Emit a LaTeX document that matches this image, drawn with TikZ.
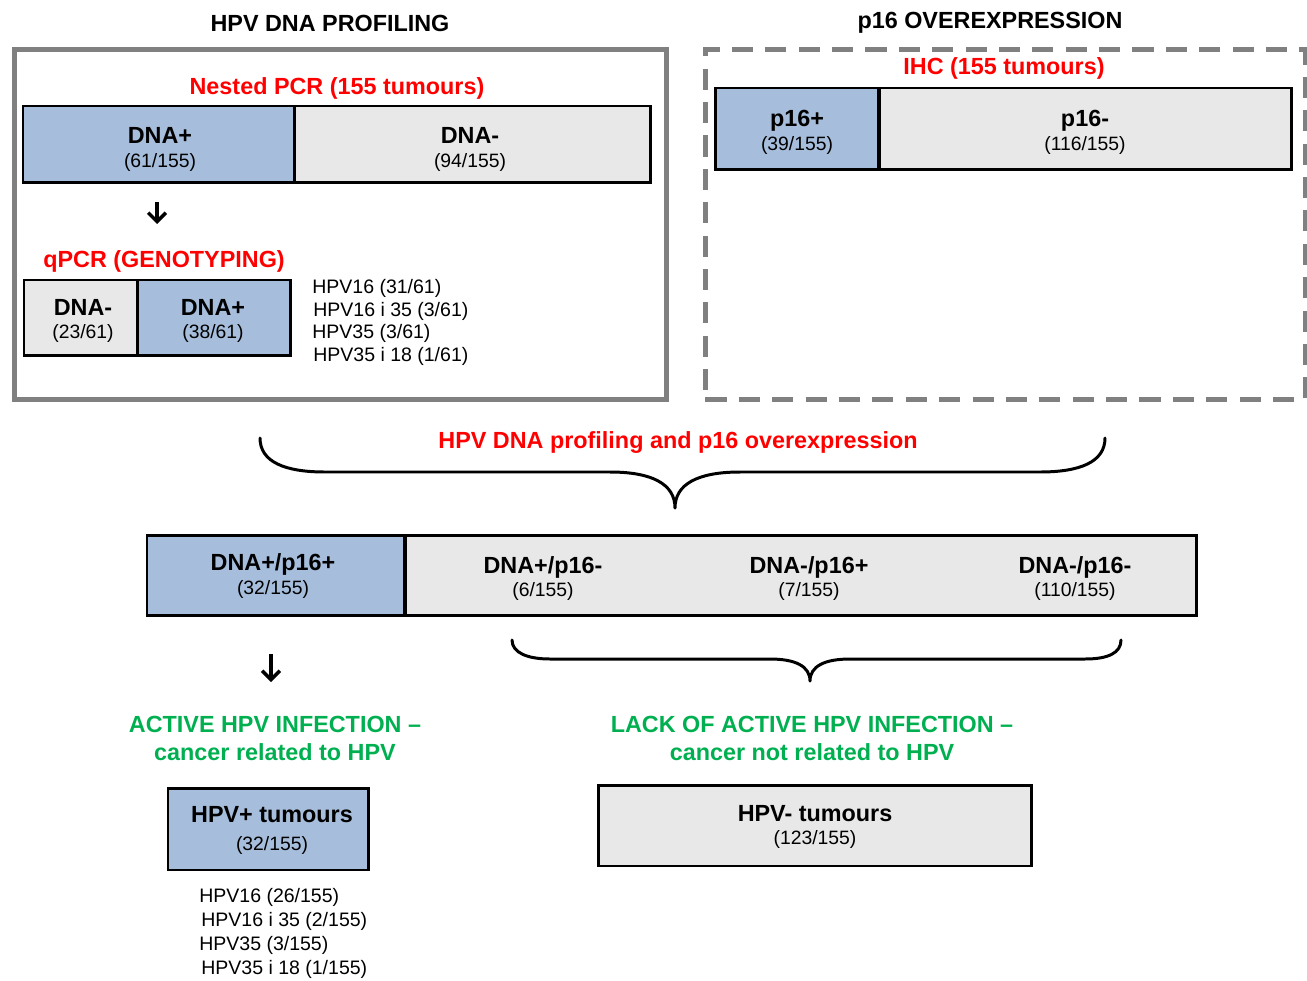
\documentclass[tikz,border=0pt]{standalone}
\usepackage{fontspec}
\setmainfont{Liberation Sans}
\usetikzlibrary{arrows.meta}
\definecolor{cellblue}{HTML}{A6BEDC}
\definecolor{cellgray}{HTML}{E8E8E8}
\definecolor{framegray}{HTML}{808080}
\definecolor{hdred}{HTML}{FF0000}
\definecolor{hdgreen}{HTML}{00B050}
\newcommand\lblfont{\fontsize{13.3}{16}\selectfont\bfseries}
\newcommand\numfont{\fontsize{11}{13}\selectfont}
\newcommand\lstfont{\fontsize{11.1}{13}\selectfont}
\begin{document}
\begin{tikzpicture}[x=0.02cm,y=-0.02cm,
 cell/.style={draw=black, line width=1.7pt, inner sep=0, outer sep=0, anchor=north west},
 bluecell/.style={cell, fill=cellblue},
 graycell/.style={cell, fill=cellgray},
 lbl/.style={inner sep=0, font=\lblfont, text height=9.5pt, text depth=0pt},
 num/.style={inner sep=0, font=\numfont, text height=7.9pt, text depth=0pt},
 lst/.style={inner sep=0, font=\lstfont, text height=7.9pt, text depth=0pt, anchor=west},
 redhd/.style={lbl, text=hdred},
 greenhd/.style={lbl, text=hdgreen},
 arr/.style={line width=1.8pt, -{Straight Barb[length=5pt,width=10pt,line width=2pt]}},
 bracepath/.style={line width=1.7pt, line cap=round, line join=round}
]
\useasboundingbox (0,0) rectangle (1307,980);

% ---------- frames ----------
\node[draw=framegray, line width=2.8pt, inner sep=0, anchor=north west,
      minimum width=13.04cm, minimum height=7.0cm] (leftframe) at (12,47) {};
\node[draw=framegray, line width=2.8pt, dash pattern=on 12pt off 7pt, inner sep=0, anchor=north west,
      minimum width=12.0cm, minimum height=7.0cm] (rightframe) at (703,47) {};

% ---------- titles ----------
\node[lbl] (t1) at (330,23) {HPV DNA PROFILING};
\node[lbl] (t2) at (990,20) {p16 OVEREXPRESSION};

% ---------- nested PCR ----------
\node[redhd] (nested) at (337,86) {Nested PCR (155 tumours)};
\node[bluecell, minimum width=5.44cm, minimum height=1.54cm] (npos) at (23,106) {};
\node[graycell, minimum width=7.12cm, minimum height=1.54cm] (nneg) at (295,106) {};
\node[lbl] at (160,135) {DNA+};
\node[num] at (160,161) {(61/155)};
\node[lbl] at (470,135) {DNA-};
\node[num] at (470,161) {(94/155)};

\coordinate (a1s) at (157,202);
\coordinate (a1e) at (157,224);
\draw[arr] (a1s) -- (a1e);

% ---------- qPCR ----------
\node[redhd] (qpcr) at (164,259) {qPCR (GENOTYPING)};
\node[graycell, minimum width=2.28cm, minimum height=1.52cm] (qneg) at (24,280) {};
\node[bluecell, minimum width=3.06cm, minimum height=1.52cm] (qpos) at (138,280) {};
\node[lbl] at (83,307) {DNA-};
\node[num] at (83,332) {(23/61)};
\node[lbl] at (213,307) {DNA+};
\node[num] at (213,332) {(38/61)};
\node[lst] at (312,287) {HPV16 (31/61)};
\node[lst] at (313,310) {HPV16 i 35 (3/61)};
\node[lst] at (312,332) {HPV35 (3/61)};
\node[lst] at (313,355) {HPV35 i 18 (1/61)};

% ---------- IHC ----------
\node[redhd] (ihc) at (1004,66) {IHC (155 tumours)};
\node[bluecell, minimum width=3.28cm, minimum height=1.64cm] (ppos) at (715,88) {};
\node[graycell, minimum width=8.26cm, minimum height=1.64cm] (pneg) at (879,88) {};
\node[lbl] at (797,118) {p16+};
\node[num] at (797,144) {(39/155)};
\node[lbl] at (1085,118) {p16-};
\node[num] at (1085,144) {(116/155)};

% ---------- brace 1 ----------
\node[redhd] (combo) at (678,440) {HPV DNA profiling and p16 overexpression};
\coordinate (b1l) at (260,438);
\coordinate (b1tip) at (675,508);
\coordinate (b1r) at (1105,438);
\draw[bracepath] (b1l) .. controls (260,462) and (285,472) .. (325,472)
  -- (610,472) .. controls (652,472) and (675,484) .. (b1tip)
  .. controls (675,484) and (698,472) .. (740,472)
  -- (1040,472) .. controls (1080,472) and (1105,462) .. (b1r);

% ---------- combined box ----------
\node[bluecell, minimum width=5.16cm, minimum height=1.62cm] (cpos) at (147,535) {};
\node[graycell, minimum width=15.84cm, minimum height=1.62cm] (crest) at (405,535) {};
\node[lbl] at (273,562) {DNA+/p16+};
\node[num] at (273,588) {(32/155)};
\node[lbl] at (543,565) {DNA+/p16-};
\node[num] at (543,590) {(6/155)};
\node[lbl] at (809,565) {DNA-/p16+};
\node[num] at (809,590) {(7/155)};
\node[lbl] at (1075,565) {DNA-/p16-};
\node[num] at (1075,590) {(110/155)};

\coordinate (a2s) at (271,654);
\coordinate (a2e) at (271,682);
\draw[arr] (a2s) -- (a2e);

% ---------- brace 2 ----------
\coordinate (b2l) at (512,640);
\coordinate (b2tip) at (810,681);
\coordinate (b2r) at (1121,640);
\draw[bracepath] (b2l) .. controls (512,653) and (528,659) .. (550,659)
  -- (770,659) .. controls (795,659) and (810,666) .. (b2tip)
  .. controls (810,666) and (825,659) .. (850,659)
  -- (1085,659) .. controls (1108,659) and (1121,653) .. (b2r);

% ---------- outcomes ----------
\node[greenhd] at (275,724) {ACTIVE HPV INFECTION \textendash};
\node[greenhd] at (275,752) {cancer related to HPV};
\node[greenhd] at (812,724) {LACK OF ACTIVE HPV INFECTION \textendash};
\node[greenhd] at (812,752) {cancer not related to HPV};

\node[bluecell, minimum width=4.02cm, minimum height=1.64cm] (hpvpos) at (168,788) {};
\node[lbl] at (272,814) {HPV+ tumours};
\node[num] at (272,844) {(32/155)};
\node[graycell, minimum width=8.68cm, minimum height=1.62cm] (hpvneg) at (598,785) {};
\node[lbl] at (815,813) {HPV- tumours};
\node[num] at (815,838) {(123/155)};

\node[lst] at (199,896) {HPV16 (26/155)};
\node[lst] at (201,920) {HPV16 i 35 (2/155)};
\node[lst] at (199,944) {HPV35 (3/155)};
\node[lst] at (201,968) {HPV35 i 18 (1/155)};
\end{tikzpicture}
\end{document}
